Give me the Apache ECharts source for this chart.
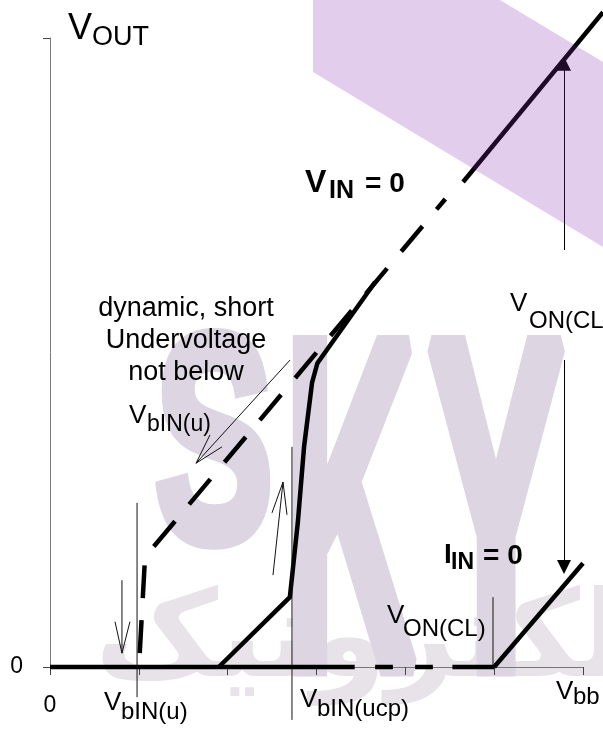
<!DOCTYPE html>
<html><head><meta charset="utf-8">
<script src="https://cdn.jsdelivr.net/npm/echarts@6/dist/echarts.min.js"></script>
<style>html,body{margin:0;padding:0;background:#fff}#c{width:603px;height:729px}</style>
</head><body><div id="c"></div>
<script>
// ---- data (x: Vbb in tick units 0..6, y: Vout in % of axis height) ----
const xTicks = [0, 1, 2, 3, 4, 5, 6];
// Vout = 0 (off state): solid and dashed pieces along the x axis
const offSegmentsX = [[0, 3.43], [3.66, 3.86], [4.11, 4.31], [4.53, 5.0]];
// V_IN = 0 curve
const vinDashedX = [1.01, 1.07, 4.45];
const vinDashedY = [2.2, 17.5, 74.4];
const vinSolidX = [4.65, 6.225];
const vinSolidY = [77.1, 104.1];
// I_IN = 0 curve
const iinX = [5.0, 6.0];
const iinY = [0, 16.5];
// undervoltage recovery curve
const uvX = [1.9, 2.7, 2.79, 2.86, 2.95, 3.01, 3.66];
const uvY = [0, 11.1, 23.0, 35.0, 45.2, 48.3, 61.2];
// thin marker lines [x, yFrom, yTo]
const markers = [[0.98, -4.8, 26.1], [2.724, -8.4, 35.0], [4.987, 0, 11.1]];
// annotation arrows: shaft [x1,y1,x2,y2], head wings [xa,ya,xb,yb]
const openArrows = [
  { shaft: [2.702, 48.8, 1.644, 32.4], wings: [1.936, 35.0, 1.801, 36.9] },
  { shaft: [2.51, 14.6, 2.623, 29.4], wings: [2.499, 24.5, 2.668, 24.2] },
  { shaft: [0.81, 13.8, 0.81, 2.2], wings: [0.732, 7.2, 0.90, 7.2] }
];
const filledArrows = [[5.786, 66.3, 5.786, 95.9], [5.786, 48.8, 5.786, 15.9]];

const zip = (xs, ys) => xs.map((x, i) => [x, ys[i]]);
const FONT = '"Liberation Sans", Arial, sans-serif';
const thick = { color: '#000', width: 4.5, cap: 'butt', join: 'miter' };
const thin = { color: '#111', width: 1 };
const series = [];
const addLine = (data, style, axisIdx) => series.push({
  type: 'line', data, showSymbol: false, symbol: 'none', clip: false, silent: true,
  xAxisIndex: axisIdx || 0, yAxisIndex: axisIdx || 0,
  lineStyle: style, z: 3, animation: false
});

offSegmentsX.forEach(s => addLine([[s[0], 0], [s[1], 0]], thick));
addLine(zip(vinDashedX, vinDashedY), Object.assign({}, thick, { type: [33, 22] }));
addLine(zip(vinSolidX, vinSolidY), thick, 1);
addLine(zip(iinX, iinY), thick);
addLine(zip(uvX, uvY), thick);
markers.forEach(m => addLine([[m[0], m[1]], [m[0], m[2]]], thin));
openArrows.forEach(a => {
  addLine([[a.shaft[0], a.shaft[1]], [a.shaft[2], a.shaft[3]]], thin);
  addLine([[a.wings[0], a.wings[1]], [a.shaft[2], a.shaft[3]], [a.wings[2], a.wings[3]]], thin);
});
series.push({
  type: 'line', data: [], silent: true, animation: false,
  markLine: {
    silent: true, animation: false, symbol: ['none', 'triangle'], symbolSize: 14,
    label: { show: false }, lineStyle: { color: '#000', width: 1, type: 'solid' },
    itemStyle: { color: '#000' },
    data: filledArrows.map(a => [{ coord: [a[0], a[1]] }, { coord: [a[2], a[3]] }])
  }
});

function txt(x, y, text, size, bold) {
  return {
    type: 'text', x, y, z: 50, silent: true,
    style: { text, font: (bold ? 'bold ' : '') + size + 'px ' + FONT, fill: '#000',
             textAlign: 'left', textVerticalAlign: 'middle' }
  };
}
const wm = '#ddd5e2';
const graphics = [
  // watermark (background)
  { type: 'text', x: 95, y: 705, z: 0, silent: true,
    style: { text: 'قطعات الکترونیک', font: 'bold 120px "DejaVu Sans"', fill: '#e7e3e9', textAlign: 'left', textVerticalAlign: 'bottom' } },
  { type: 'text', x: 155, y: 312, z: 0, silent: true, scaleX: 0.59, scaleY: 0.98,
    style: { text: 'S', font: 'bold 300px ' + FONT, fill: wm, stroke: wm, lineWidth: 14, textVerticalAlign: 'top' } },
  { type: 'text', x: 285, y: 305, z: 0, silent: true, scaleX: 0.6, scaleY: 1.55,
    style: { text: 'K', font: 'bold 300px ' + FONT, fill: wm, stroke: wm, lineWidth: 14, textVerticalAlign: 'top' } },
  { type: 'text', x: 428, y: 305, z: 0, silent: true, scaleX: 0.68, scaleY: 1.55,
    style: { text: 'Y', font: 'bold 300px ' + FONT, fill: wm, stroke: wm, lineWidth: 14, textVerticalAlign: 'top' } },
  // translucent band (top right)
  { type: 'polygon', z: 100, silent: true,
    shape: { points: [[313, 0], [500, 0], [603, 62], [603, 247], [313, 72]] },
    style: { fill: 'rgba(134,42,174,0.235)' } },
  // labels
  txt(68, 29, 'V', 36), txt(92, 38, 'OUT', 27),
  txt(305, 183, 'V', 32, true), txt(329, 191, 'IN', 25, true), txt(365, 184, '= 0', 28, true),
  txt(444, 555, 'I', 28, true), txt(451, 563, 'IN', 23, true), txt(483, 556, '= 0', 28, true),
  { type: 'text', x: 186, y: 293, z: 50, silent: true,
    style: { text: 'dynamic, short\nUndervoltage\nnot below', font: '27px ' + FONT, fill: '#000',
             textAlign: 'center', textVerticalAlign: 'top', lineHeight: 32 } },
  txt(129, 416, 'V', 26), txt(147, 425, 'bIN(u)', 23),
  txt(510, 304, 'V', 26), txt(529, 321, 'ON(CL)', 24),
  txt(387, 616, 'V', 26), txt(403, 629, 'ON(CL)', 24),
  txt(104, 703, 'V', 26), txt(121, 712, 'bIN(u)', 24),
  txt(300, 700, 'V', 26), txt(317, 709, 'bIN(ucp)', 24),
  txt(556, 692, 'V', 26), txt(573, 697, 'bb', 24)
];

// geometry of the visible plot, used to build an invisible full-canvas twin axis
const W = 603, H = 729, G = { left: 50, right: 20, top: 38, bottom: 62 };
const xMax = xTicks[xTicks.length - 1], yMax = 100;
const plotW = W - G.left - G.right, plotH = H - G.top - G.bottom;

const chart = echarts.init(document.getElementById('c'), null, { renderer: 'canvas' });
chart.setOption({
  animation: false,
  backgroundColor: '#fff',
  grid: [G, { left: G.left, right: 0, top: 0, bottom: G.bottom }],
  xAxis: [{
    type: 'value', min: xTicks[0], max: xMax, interval: 1,
    axisLine: { lineStyle: { color: '#777', width: 1 } },
    axisTick: { length: 8, lineStyle: { color: '#444' } },
    axisLabel: { formatter: v => (v === 0 ? '0' : ''), margin: 27, fontSize: 23, color: '#000', fontFamily: FONT },
    splitLine: { show: false }
  }, {
    gridIndex: 1, type: 'value', min: 0, max: xMax * (W - G.left) / plotW, show: false
  }],
  yAxis: [{
    type: 'value', min: 0, max: yMax, interval: 100,
    axisLine: { show: true, lineStyle: { color: '#777', width: 1 } },
    axisTick: { show: true, length: 7, lineStyle: { color: '#444' } },
    axisLabel: { formatter: v => (v === 0 ? '0' : ''), margin: 27, fontSize: 23, color: '#000', fontFamily: FONT },
    splitLine: { show: false }
  }, {
    gridIndex: 1, type: 'value', min: 0, max: yMax * (H - G.bottom) / plotH, show: false
  }],
  series,
  graphic: graphics
});
</script></body></html>
